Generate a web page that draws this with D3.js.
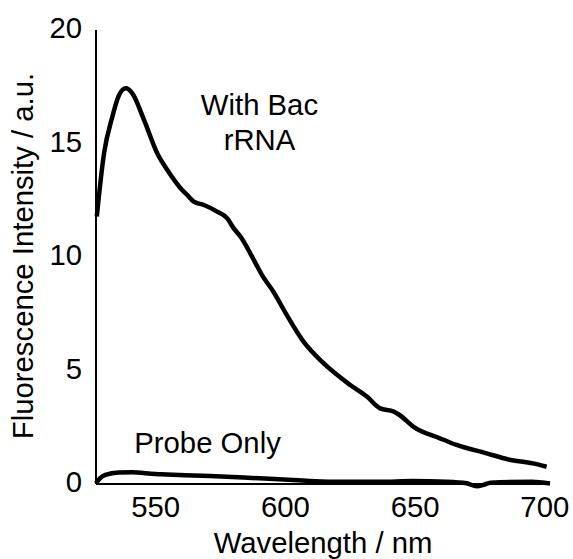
<!DOCTYPE html>
<html>
<head>
<meta charset="utf-8">
<script src="https://cdn.jsdelivr.net/npm/d3@7"></script>
<style>
    body { margin: 0; background: white; }
    text { font-family: Arial, "Liberation Sans", sans-serif; fill: black; }
</style>
</head>
<body>
<div id="chart"></div>
<script>
var bacWavelength = [527.3, 530.1, 533.3, 535.9, 538.5, 541.0, 545.5, 550.6, 554.5, 559.6,
    562.2, 564.7, 568.6, 573.7, 577.6, 580.1, 583.0, 587.0, 591.0, 595.5, 600.0,
    607.0, 614.7, 625.0, 631.4, 636.5, 641.7, 644.0, 649.4, 659.6, 666.0, 677.6, 686.0,
    695.4, 700.7];
var bacIntensity = [11.78, 14.57, 16.18, 17.14, 17.43, 17.21, 16.04, 14.57, 13.83, 13.03,
    12.73, 12.44, 12.29, 12.0, 11.7, 11.26, 10.85, 10.05, 9.2, 8.45, 7.55,
    6.27, 5.32, 4.36, 3.85, 3.33, 3.19, 3.04, 2.52, 2.01, 1.72, 1.35, 1.08,
    0.91, 0.76];

var probeWavelength = [527.0, 528.5, 530.6, 535.8, 540.8, 549.9, 552.0, 571.0, 590.0, 603.0,
    618.5, 636.5, 649.0, 662.0, 669.9, 673.7, 676.4, 679.0, 695.0, 702.0];
var probeIntensity = [0.03, 0.25, 0.40, 0.51, 0.52, 0.44, 0.43, 0.35, 0.25, 0.18,
    0.10, 0.10, 0.13, 0.10, 0.03, -0.10, -0.04, 0.06, 0.10, 0.02];

var xTicks = [550, 600, 650, 700];
var yTicks = [0, 5, 10, 15, 20];

var labels = [
    { lines: ["With Bac", "rRNA"], x: 590, y: 16.26 },
    { lines: ["Probe Only"], x: 570, y: 1.37 }
];

var width = 573, height = 559;
var fontSize = 29.3;

var svg = d3.select("#chart").append("svg")
    .attr("width", width)
    .attr("height", height);

var x = d3.scaleLinear().domain([527, 702]).range([96, 550]);
var y = d3.scaleLinear().domain([0, 20]).range([484, 30]);

// axes lines, no tick marks
svg.append("line")
    .attr("x1", x(527)).attr("x2", x(527))
    .attr("y1", y(20)).attr("y2", y(0))
    .attr("stroke", "black").attr("stroke-width", 2);
svg.append("line")
    .attr("x1", x(527)).attr("x2", x(702))
    .attr("y1", y(0)).attr("y2", y(0))
    .attr("stroke", "black").attr("stroke-width", 2);

svg.selectAll(".ytick")
    .data(yTicks)
    .enter().append("text")
    .attr("class", "ytick")
    .attr("x", 82)
    .attr("y", d => y(d) + 8)
    .attr("text-anchor", "end")
    .style("font-size", fontSize + "px")
    .text(d => d);

svg.selectAll(".xtick")
    .data(xTicks)
    .enter().append("text")
    .attr("class", "xtick")
    .attr("x", d => x(d))
    .attr("y", 517)
    .attr("text-anchor", "middle")
    .style("font-size", fontSize + "px")
    .text(d => d);

svg.append("text")
    .attr("x", 323)
    .attr("y", 553)
    .attr("text-anchor", "middle")
    .style("font-size", fontSize + "px")
    .text("Wavelength / nm");

svg.append("text")
    .attr("transform", "translate(33," + 256 + ") rotate(-90)")
    .attr("text-anchor", "middle")
    .style("font-size", fontSize + "px")
    .text("Fluorescence Intensity / a.u.");

var line = d3.line()
    .x(d => x(d[0]))
    .y(d => y(d[1]))
    .curve(d3.curveMonotoneX);

svg.append("path")
    .datum(d3.zip(probeWavelength, probeIntensity))
    .attr("d", line)
    .attr("fill", "none")
    .attr("stroke", "black")
    .attr("stroke-width", 4.5);

svg.append("path")
    .datum(d3.zip(bacWavelength, bacIntensity))
    .attr("d", line)
    .attr("fill", "none")
    .attr("stroke", "black")
    .attr("stroke-width", 4.5)
    .attr("stroke-linejoin", "round");

labels.forEach(l => {
    var t = svg.append("text")
        .attr("x", x(l.x))
        .attr("y", y(l.y))
        .attr("text-anchor", "middle")
        .style("font-size", fontSize + "px");
    l.lines.forEach((s, i) => {
        t.append("tspan")
            .attr("x", x(l.x))
            .attr("dy", i === 0 ? 0 : 35)
            .text(s);
    });
});
</script>
</body>
</html>
